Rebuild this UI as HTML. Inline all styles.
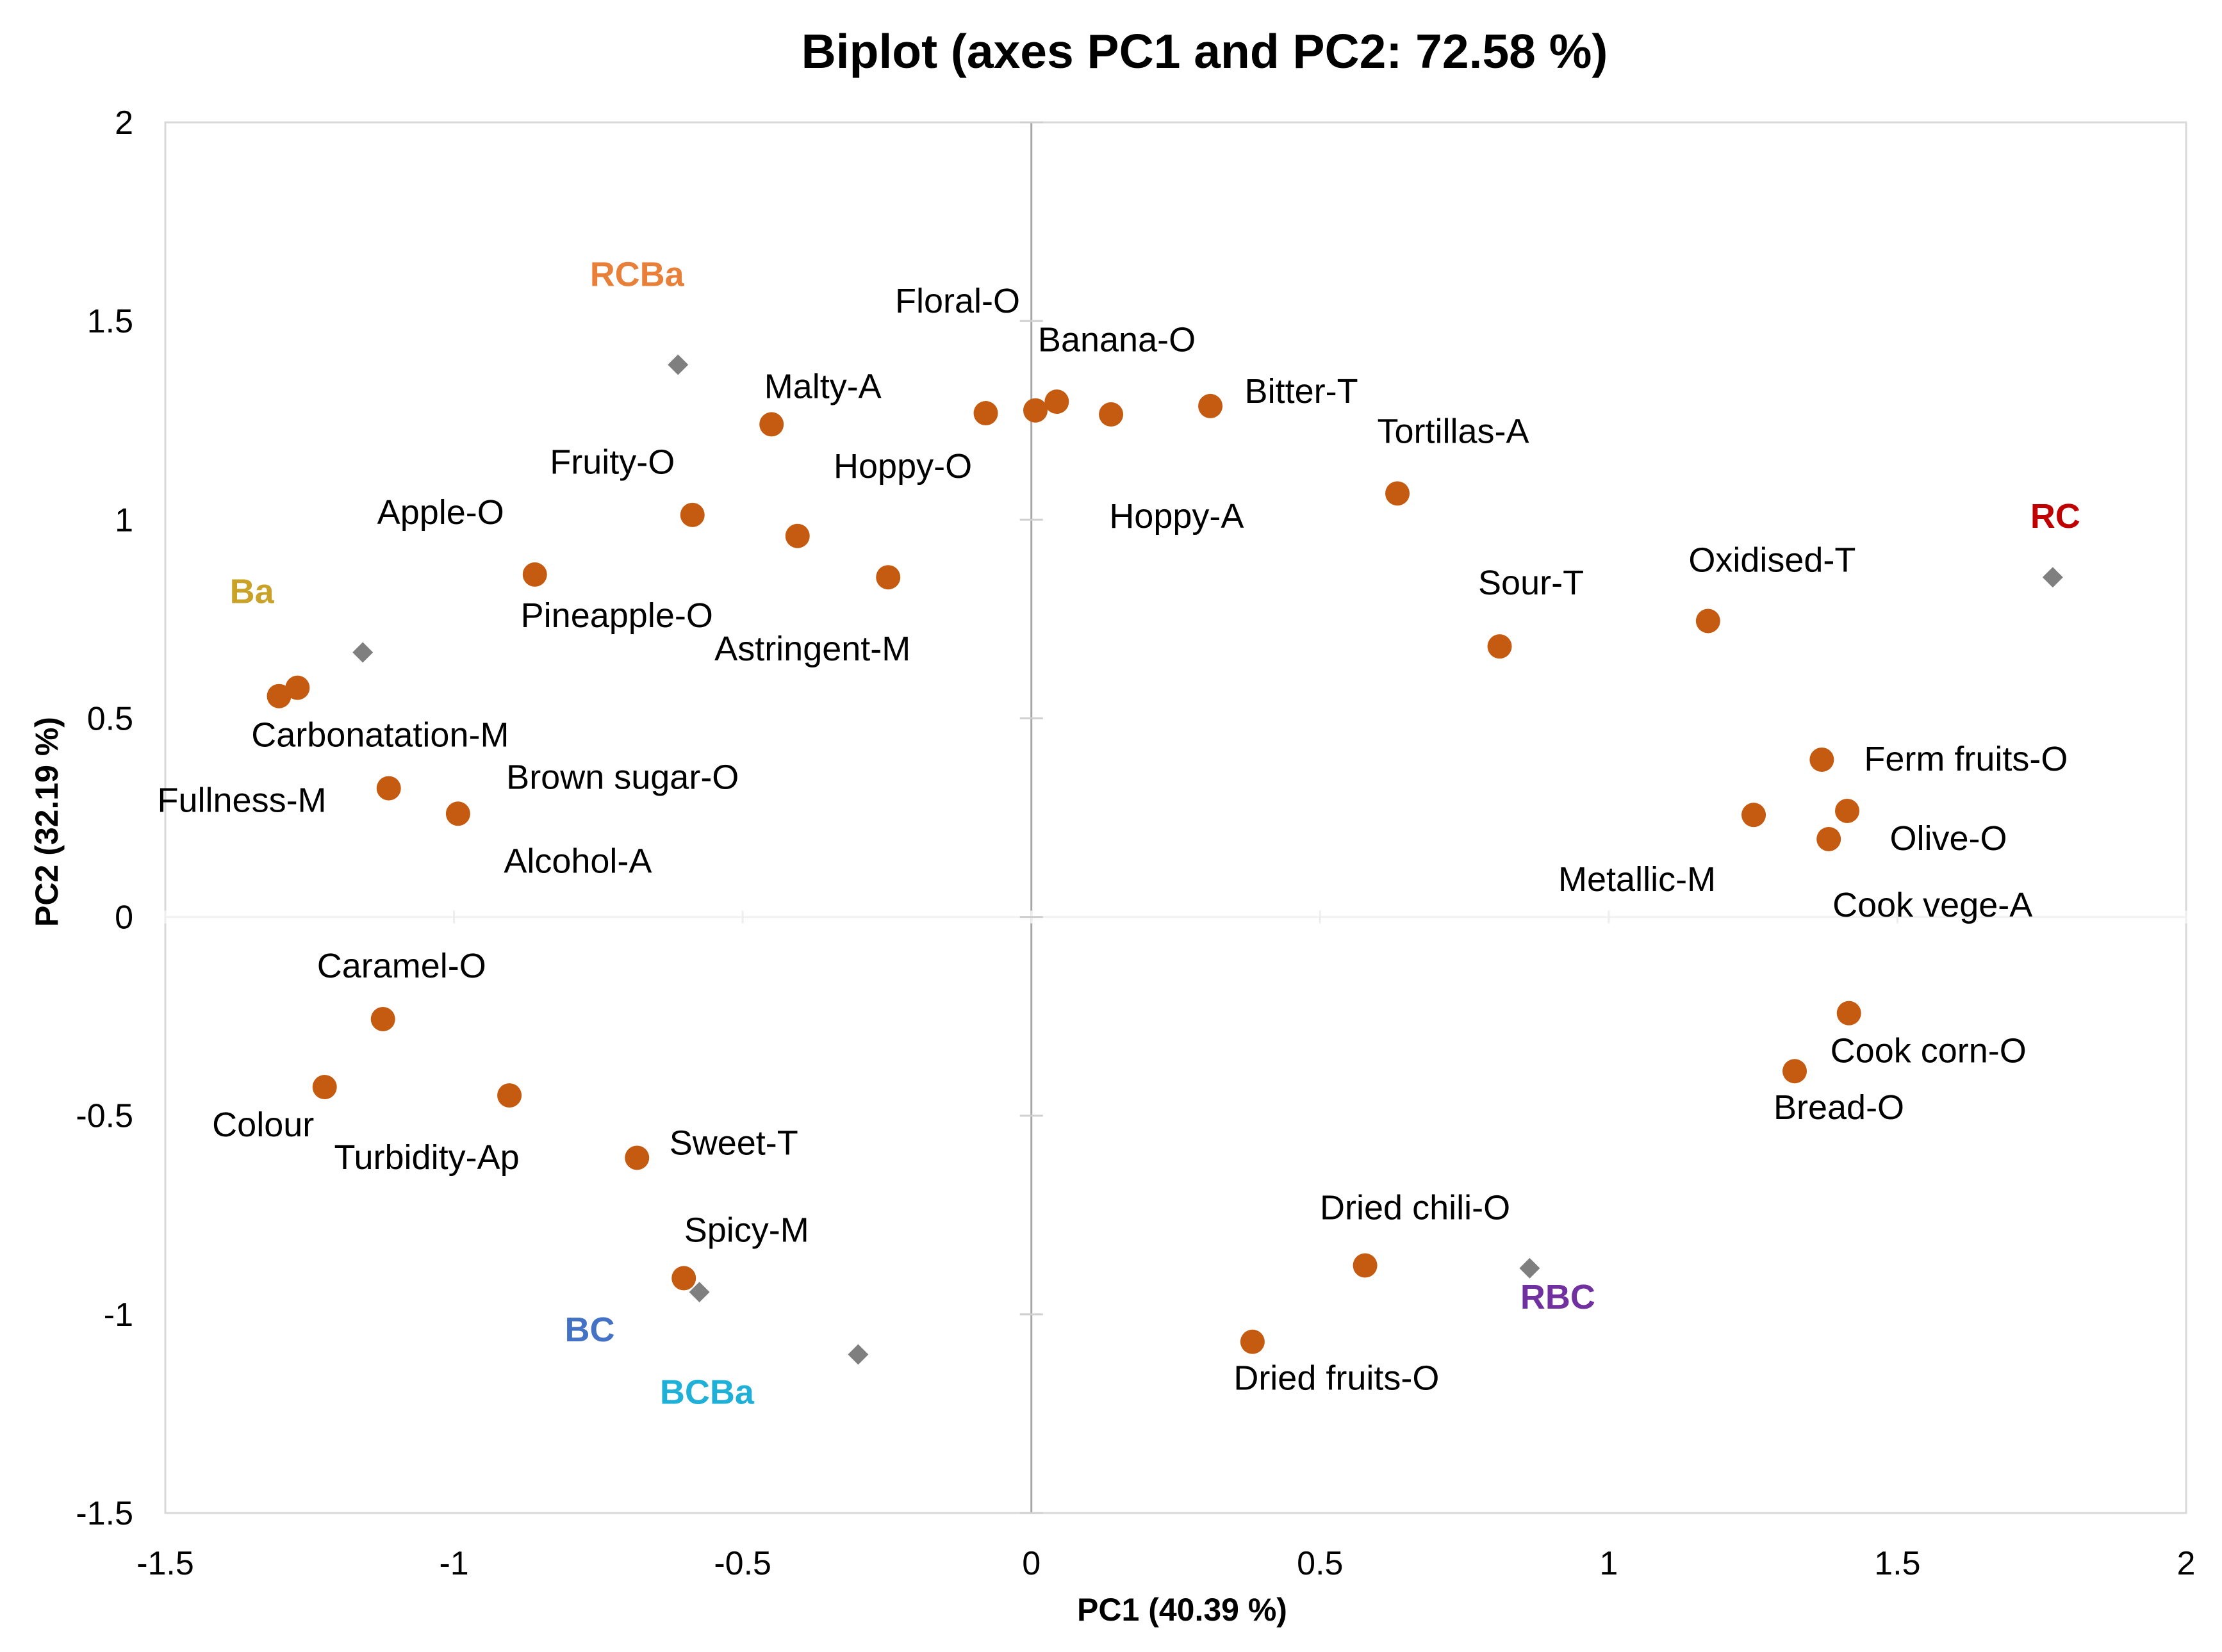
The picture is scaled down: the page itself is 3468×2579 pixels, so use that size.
<!DOCTYPE html>
<html><head><meta charset="utf-8"><title>Biplot</title>
<style>
html,body{margin:0;padding:0;background:#fff;}
svg{display:block;font-family:"Liberation Sans",Arial,sans-serif;}
</style></head>
<body>
<svg id="chart" width="3468" height="2579" viewBox="0 0 3468 2579" xmlns="http://www.w3.org/2000/svg">
<rect x="0" y="0" width="3468" height="2579" fill="#fff"/>
<text x="1880" y="106" font-size="75" font-weight="bold" text-anchor="middle" fill="#000">Biplot (axes PC1 and PC2: 72.58 %)</text>
<text x="1845" y="2530" font-size="50" font-weight="bold" text-anchor="middle" fill="#000">PC1 (40.39 %)</text>
<text x="0" y="0" font-size="50" font-weight="bold" text-anchor="middle" fill="#000" transform="translate(90,1283) rotate(-90)">PC2 (32.19 %)</text>
<g id="grid"></g>
<g id="marks"></g>
</svg>
<script>
const xTicks = [-1.5, -1, -0.5, 0, 0.5, 1, 1.5, 2];
const yTicks = [-1.5, -1, -0.5, 0, 0.5, 1, 1.5, 2];
const varNames = ["Floral-O","Banana-O","Hoppy-A","Hoppy-O","Bitter-T","Malty-A","Pineapple-O","Fruity-O","Apple-O","Astringent-M","Tortillas-A","Sour-T","Oxidised-T","Carbonatation-M","Fullness-M","Brown sugar-O","Alcohol-A","Ferm fruits-O","Olive-O","Metallic-M","Cook vege-A","Caramel-O","Colour","Turbidity-Ap","Sweet-T","Cook corn-O","Bread-O","Spicy-M","Dried chili-O","Dried fruits-O"];
const varPC1 = [-0.079,0.007,0.044,0.138,0.31,-0.45,-0.587,-0.405,-0.86,-0.248,0.634,0.811,1.172,-1.271,-1.303,-1.113,-0.993,1.369,1.413,1.251,1.381,-1.123,-1.224,-0.904,-0.683,1.416,1.322,-0.602,0.578,0.383];
const varPC2 = [1.268,1.275,1.297,1.265,1.286,1.24,1.012,0.959,0.862,0.855,1.066,0.681,0.745,0.577,0.556,0.324,0.26,0.396,0.267,0.257,0.196,-0.257,-0.428,-0.449,-0.606,-0.242,-0.388,-0.909,-0.877,-1.069];
const obsNames = ["RCBa","Ba","RC","RBC","BC","BCBa"];
const obsPC1 = [-0.612,-1.158,1.769,0.863,-0.575,-0.3];
const obsPC2 = [1.39,0.666,0.855,-0.884,-0.944,-1.101];

// label offsets (styling, px)
const varLabelOff = [[-44,-176],[127,-111],[187,178],[-325,80],[142,-24],[80,-60],[-118,156],[-289,-116],[-147,-98],[-118,111],[87,-98],[49,-100],[100,-96],[129,73],[-58,162],[365,-18],[187,73],[225,-2],[158,42],[-182,100],[162,102],[29,-84],[-96,58],[-129,96],[151,-24],[124,58],[69,56],[98,-76],[78,-91],[131,56]];
const obsLabelOff = [[-64,-142],[-173,-96],[4,-96],[44,44],[-171,58],[-236,58]];
const obsColors = ["#E8803A","#C9A227","#C00000","#7030A0","#4472C4","#1FB0D8"];

const L=258,R=3412,T=191,B=2362, xMin=-1.5,xMax=2,yMin=-1.5,yMax=2;
function X(v){return L+(v-xMin)/(xMax-xMin)*(R-L);}
function Y(v){return B-(v-yMin)/(yMax-yMin)*(B-T);}
const NS="http://www.w3.org/2000/svg";
function mk(tag,attrs,parent,txt){const e=document.createElementNS(NS,tag);for(const k in attrs)e.setAttribute(k,attrs[k]);if(txt!==undefined)e.textContent=txt;parent.appendChild(e);return e;}
const grid=document.getElementById('grid'), marks=document.getElementById('marks');

let fr=mk('rect',{x:L,y:T,width:R-L,height:B-T,fill:'none',stroke:'#d9d9d9','stroke-width':3},grid);


let zx=mk('line',{x1:X(0),x2:X(0),y1:T,y2:B,stroke:'#a6a6a6','stroke-width':3},grid);


let zy=mk('line',{x1:L,x2:R,y1:Y(0),y2:Y(0),stroke:'#f2f2f2','stroke-width':3},grid);



xTicks.forEach(t=>{
  const tl=mk('text',{x:X(t),y:2458,'font-size':52,'text-anchor':'middle',fill:'#000'},grid,String(t));
  
  
  const tm=mk('line',{x1:X(t),x2:X(t),y1:Y(0)-10,y2:Y(0)+10,stroke:'#eeeeee','stroke-width':3},grid);
  
  
});
yTicks.forEach(t=>{
  const tl=mk('text',{x:208,y:Y(t)+18,'font-size':52,'text-anchor':'end',fill:'#000'},grid,String(t));
  
  
  const tm=mk('line',{x1:X(0)-18,x2:X(0)+18,y1:Y(t),y2:Y(t),stroke:'#cfcfcf','stroke-width':3},grid);
  
  
});

varNames.forEach((n,i)=>{
  const cx=X(varPC1[i]), cy=Y(varPC2[i]);
  const c=mk('circle',{cx:cx,cy:cy,r:19,fill:'#C55A11'},marks);
  
  
  const t=mk('text',{x:cx+varLabelOff[i][0],y:cy+varLabelOff[i][1]+19,'font-size':54,'text-anchor':'middle',fill:'#000'},marks,n);
  
  
});
obsNames.forEach((n,i)=>{
  const cx=X(obsPC1[i]), cy=Y(obsPC2[i]), s=16;
  const d=mk('polygon',{points:`${cx},${cy-s} ${cx+s},${cy} ${cx},${cy+s} ${cx-s},${cy}`,fill:'#7f7f7f'},marks);
  
  
  const t=mk('text',{x:cx+obsLabelOff[i][0],y:cy+obsLabelOff[i][1]+19,'font-size':54,'font-weight':'bold','text-anchor':'middle',fill:obsColors[i]},marks,n);
  
  
});
</script>
</body></html>
